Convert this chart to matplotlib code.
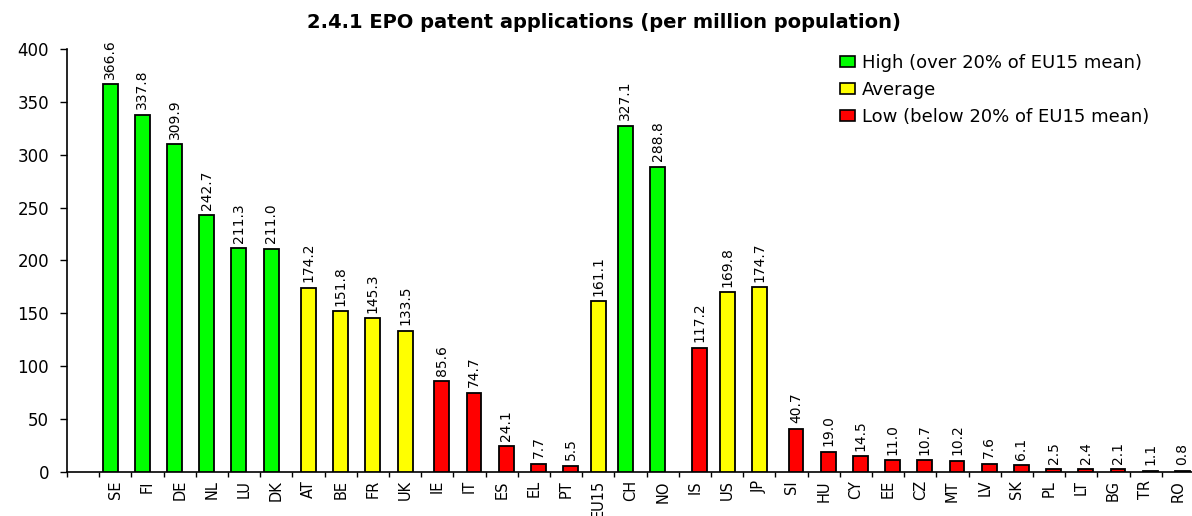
import matplotlib
matplotlib.use("Agg")
import matplotlib.pyplot as plt
from matplotlib.patches import Patch
from matplotlib.ticker import FixedLocator, NullFormatter

countries = ["SE", "FI", "DE", "NL", "LU", "DK", "AT", "BE", "FR", "UK", "IE", "IT",
             "ES", "EL", "PT", "EU15", "CH", "NO", "IS", "US", "JP", "SI", "HU", "CY",
             "EE", "CZ", "MT", "LV", "SK", "PL", "LT", "BG", "TR", "RO"]
values = [366.6, 337.8, 309.9, 242.7, 211.3, 211.0, 174.2, 151.8, 145.3, 133.5, 85.6, 74.7,
          24.1, 7.7, 5.5, 161.1, 327.1, 288.8, 117.2, 169.8, 174.7, 40.7, 19.0, 14.5,
          11.0, 10.7, 10.2, 7.6, 6.1, 2.5, 2.4, 2.1, 1.1, 0.8]
groups = ["H", "H", "H", "H", "H", "H", "A", "A", "A", "A", "L", "L",
          "L", "L", "L", "A", "H", "H", "L", "A", "A", "L", "L", "L",
          "L", "L", "L", "L", "L", "L", "L", "L", "L", "L"]
group_labels = {"H": "High (over 20% of EU15 mean)",
                "A": "Average",
                "L": "Low (below 20% of EU15 mean)"}
title = "2.4.1 EPO patent applications (per million population)"

colors = {"H": "#00FF00", "A": "#FFFF00", "L": "#FF0000"}
offsets = {"H": -0.16, "A": 0.0, "L": 0.14}

plt.rcParams['font.family'] = ['DejaVu Sans']
fig = plt.figure(figsize=(11.92, 5.16), dpi=100)
W, H = 1192, 516
ax = fig.add_axes([67 / W, (H - 471.7) / H, 1127 / W, 422.7 / H])

n = len(countries)
centers = [i + 1.5 for i in range(n)]
xs = [c + offsets[g] for c, g in zip(centers, groups)]
bw = 0.465
ax.bar(xs, values, width=bw, color=[colors[g] for g in groups],
       edgecolor="black", linewidth=1.3, zorder=3)
for x, v in zip(xs, values):
    ax.annotate(f"{v:.1f}", (x, v), xytext=(0, 4), textcoords="offset points",
                rotation=90, ha="center", va="bottom", fontsize=10)

ax.set_xlim(0, n + 1)
ax.set_ylim(0, 400)
ax.set_yticks(range(0, 401, 50))
ax.tick_params(axis="y", labelsize=12, length=5, width=1, pad=8, direction="out")

ax.xaxis.set_major_locator(FixedLocator(list(range(0, n + 2))))
ax.xaxis.set_major_formatter(NullFormatter())
ax.xaxis.set_minor_locator(FixedLocator(centers))
ax.set_xticklabels(countries, minor=True, rotation=90, fontsize=10.5)
ax.tick_params(axis="x", which="major", length=3.6, width=1, direction="out")
ax.tick_params(axis="x", which="minor", length=0, pad=6)

for s in ["top", "right"]:
    ax.spines[s].set_visible(False)
for s in ["left", "bottom"]:
    ax.spines[s].set_linewidth(1.2)

fig.text(604 / W, 1 - 22 / H, title, ha="center", va="center",
         fontsize=14, fontweight="bold")

handles = [Patch(facecolor=colors[k], edgecolor="black", linewidth=1.2, label=group_labels[k])
           for k in ["H", "A", "L"]]
fig.legend(handles=handles, loc="upper left", bbox_to_anchor=(840 / W, 1 - 54 / H),
           frameon=False, fontsize=13, handlelength=0.85, handleheight=0.5,
           handletextpad=0.35, labelspacing=0.5, borderpad=0, borderaxespad=0)

fig.savefig("out.png", dpi=100, facecolor="white")
